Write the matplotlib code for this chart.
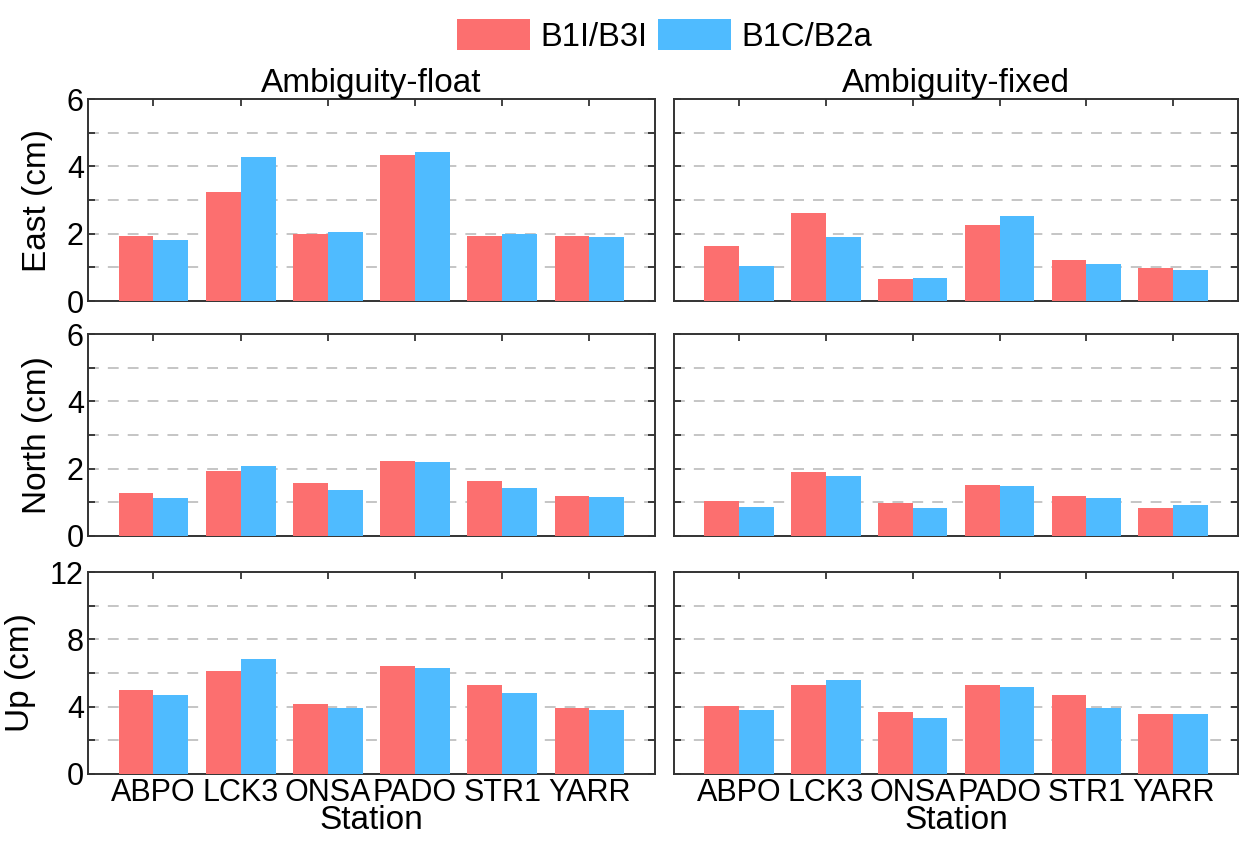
import matplotlib.pyplot as plt
import numpy as np

plt.rcParams['font.family'] = ['Liberation Sans', 'DejaVu Sans']

stations = ["ABPO", "LCK3", "ONSA", "PADO", "STR1", "YARR"]
series = ["B1I/B3I", "B1C/B2a"]

# float solutions (cm)
east_float_b1i = [1.92, 3.23, 2.00, 4.35, 1.94, 1.94]
east_float_b1c = [1.80, 4.28, 2.06, 4.44, 1.98, 1.90]
north_float_b1i = [1.29, 1.93, 1.58, 2.22, 1.62, 1.18]
north_float_b1c = [1.13, 2.07, 1.36, 2.20, 1.43, 1.17]
up_float_b1i = [4.98, 6.11, 4.17, 6.41, 5.30, 3.95]
up_float_b1c = [4.70, 6.81, 3.91, 6.31, 4.80, 3.79]

# fixed solutions (cm)
east_fixed_b1i = [1.63, 2.62, 0.66, 2.26, 1.23, 0.97]
east_fixed_b1c = [1.05, 1.90, 0.68, 2.52, 1.09, 0.92]
north_fixed_b1i = [1.05, 1.90, 0.99, 1.50, 1.19, 0.83]
north_fixed_b1c = [0.87, 1.77, 0.84, 1.47, 1.12, 0.93]
up_fixed_b1i = [4.06, 5.29, 3.70, 5.27, 4.69, 3.58]
up_fixed_b1c = [3.80, 5.58, 3.35, 5.15, 3.94, 3.56]

rows = [
    ("East (cm)", 6, 1, 2, east_float_b1i, east_float_b1c, east_fixed_b1i, east_fixed_b1c),
    ("North (cm)", 6, 1, 2, north_float_b1i, north_float_b1c, north_fixed_b1i, north_fixed_b1c),
    ("Up (cm)", 12, 2, 4, up_float_b1i, up_float_b1c, up_fixed_b1i, up_fixed_b1c),
]

red = "#FC6F6F"
blue = "#4FBBFF"
fs = 24      # labels, titles
tfs = 22     # tick labels
lfs = 23.5   # legend

fig = plt.figure(figsize=(12.54, 8.48), dpi=100)

col_x = [0.0702, 0.5375]
col_w = [0.452, 0.450]
row_y = [0.645, 0.368, 0.0873]
row_h = 0.238

x = np.arange(len(stations))
w = 0.4
for r, (ylab, ymax, gstep, lstep, f1, f2, x1, x2) in enumerate(rows):
    for c, (v1, v2) in enumerate([(f1, f2), (x1, x2)]):
        ax = fig.add_axes([col_x[c], row_y[r], col_w[c], row_h])
        ax.bar(x - w / 2, v1, w, color=red, zorder=3, label=series[0])
        ax.bar(x + w / 2, v2, w, color=blue, zorder=3, label=series[1])
        ax.set_xlim(-0.75, 5.75)
        ax.set_ylim(0, ymax)
        yt = np.arange(0, ymax + 0.01, gstep)
        ax.set_yticks(yt)
        if c == 0:
            ax.set_yticklabels([f"{v:g}" if v % lstep == 0 else "" for v in yt])
            ax.set_ylabel(ylab, fontsize=fs, labelpad=10)
        else:
            ax.set_yticklabels([])
        for g in yt[1:-1]:
            ax.axhline(g, color="#C0C0C0", lw=1.3, ls=(0, (6, 5)), zorder=1)
        ax.set_xticks(x)
        if r == 2:
            ax.set_xticklabels(stations)
            ax.set_xlabel("Station", fontsize=fs, labelpad=-2)
        else:
            ax.set_xticklabels([])
        ax.tick_params(direction="in", top=True, right=True, labelsize=tfs,
                       length=5, width=1.2, color="#222222", pad=3)
        for s in ax.spines.values():
            s.set_linewidth(1.4)
            s.set_color("#333333")
        if r == 0:
            ax.set_title(["Ambiguity-float", "Ambiguity-fixed"][c], fontsize=fs, pad=4)
        if r == 0 and c == 0:
            handles, labels = ax.get_legend_handles_labels()

fig.legend(handles, labels, loc="upper center", bbox_to_anchor=(0.53, 1.012), ncol=2,
           frameon=False, fontsize=lfs, handlelength=2.24, handleheight=1.07,
           handletextpad=0.3, columnspacing=0.34)

plt.savefig("out.png", dpi=100)
